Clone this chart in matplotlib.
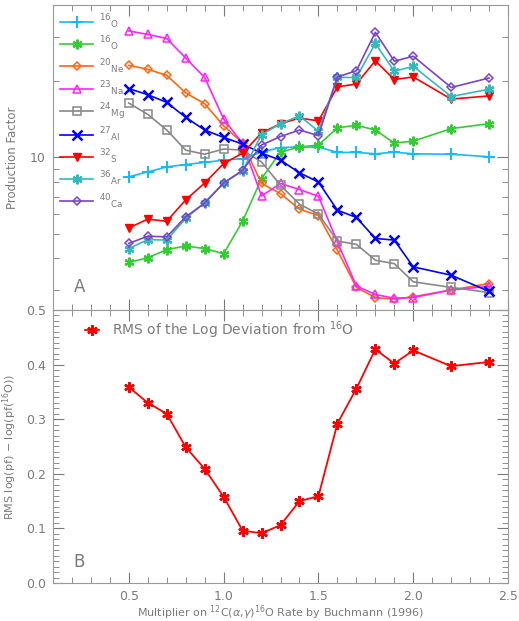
import numpy as np
import matplotlib
matplotlib.use("Agg")
import matplotlib.pyplot as plt
from matplotlib.ticker import MultipleLocator, NullFormatter, FixedLocator, FixedFormatter

# multiplier on the 12C(a,g)16O rate
mult = [0.5, 0.6, 0.7, 0.8, 0.9, 1.0, 1.1, 1.2, 1.3, 1.4, 1.5, 1.6, 1.7, 1.8, 1.9, 2.0, 2.2, 2.4]

# production factors
o16 = [8.39, 8.77, 9.18, 9.38, 9.56, 9.76, 9.9, 10.5, 10.95, 11.0, 11.0, 10.47, 10.47, 10.34, 10.5, 10.34, 10.3, 10.07]
o18 = [3.85, 4.02, 4.33, 4.47, 4.37, 4.17, 5.6, 8.25, 10.5, 11.0, 11.2, 13.1, 13.4, 12.84, 11.4, 11.6, 13.0, 13.6]
ne20 = [23.1, 22.3, 21.1, 18.0, 16.3, 13.35, 11.4, 7.9, 7.2, 6.25, 5.9, 4.3, 3.07, 2.8, 2.76, 2.82, 3.0, 3.18]
na23 = [31.6, 30.6, 29.5, 24.7, 20.7, 14.2, 11.35, 7.05, 7.9, 7.47, 7.03, 4.64, 3.11, 2.88, 2.78, 2.8, 3.0, 3.1]
mg24 = [16.4, 14.8, 12.84, 10.69, 10.3, 10.8, 10.69, 9.6, 7.77, 6.54, 5.98, 4.68, 4.54, 3.93, 3.81, 3.23, 3.07, 2.93]
al27 = [18.7, 17.7, 16.5, 14.4, 12.84, 12.0, 11.3, 10.4, 9.76, 8.7, 8.0, 6.19, 5.8, 4.79, 4.72, 3.7, 3.43, 2.96]
s32 = [5.27, 5.71, 5.6, 6.8, 7.93, 9.46, 10.4, 12.5, 13.6, 14.3, 13.95, 19.0, 19.5, 24.1, 20.3, 20.8, 17.0, 17.5]
ar36 = [4.37, 4.74, 4.72, 5.75, 6.64, 7.93, 8.85, 12.3, 13.6, 14.6, 12.7, 20.7, 20.7, 28.2, 21.9, 22.9, 17.4, 18.6]
ca40 = [4.58, 4.89, 4.86, 5.83, 6.6, 7.93, 8.9, 11.2, 12.1, 12.84, 12.2, 20.8, 22.0, 31.2, 24.0, 25.1, 18.9, 20.6]

# rms of log deviation from 16O (bottom panel)
rms = [0.359, 0.330, 0.310, 0.249, 0.209, 0.158, 0.096, 0.091, 0.106, 0.150, 0.159, 0.292, 0.356, 0.428, 0.402, 0.426, 0.397, 0.405]

labels = [r"${}^{16}{}_{\rm O}$", r"${}^{16}{}_{\rm O}$", r"${}^{20}{}_{\rm Ne}$", r"${}^{23}{}_{\rm Na}$",
          r"${}^{24}{}_{\rm Mg}$", r"${}^{27}{}_{\rm Al}$", r"${}^{32}{}_{\rm S}$", r"${}^{36}{}_{\rm Ar}$",
          r"${}^{40}{}_{\rm Ca}$"]

grey = "#7a7a7a"
ast = (6, 2, 0)
styles = [
    dict(color="#11bbff", marker="+", ms=8, mew=1.4),
    dict(color="#33cc33", marker=ast, ms=7, mew=1.6),
    dict(color="#ff6611", marker="D", ms=4, mfc="none", mew=1.1),
    dict(color="#ff22ff", marker="^", ms=5.5, mfc="none", mew=1.1),
    dict(color="#888888", marker="s", ms=5.5, mfc="none", mew=1.1),
    dict(color="#0000ff", marker="x", ms=6.5, mew=1.8),
    dict(color="#ff0000", marker="v", ms=6),
    dict(color="#33bbbb", marker=ast, ms=7, mew=1.6),
    dict(color="#7744cc", marker="D", ms=4, mfc="none", mew=1.1),
]
series = [o16, o18, ne20, na23, mg24, al27, s32, ar36, ca40]

plt.rcParams["font.family"] = "DejaVu Sans"
plt.rcParams["text.color"] = grey
plt.rcParams["axes.labelcolor"] = grey
plt.rcParams["xtick.color"] = grey
plt.rcParams["ytick.color"] = grey
plt.rcParams["axes.edgecolor"] = "#999999"

fig = plt.figure(figsize=(5.19, 6.21), dpi=100)
ax1 = fig.add_axes([0.102, 0.5008, 0.877, 0.4912])
ax2 = fig.add_axes([0.102, 0.0612, 0.877, 0.4396])

for ys, lab, st in zip(series, labels, styles):
    ax1.plot(mult, ys, lw=1.2, label=lab, **st)

ax1.set_yscale("log")
ax1.set_ylim(2.5, 40)
ax1.set_xlim(0.1, 2.5)
ax1.yaxis.set_major_locator(FixedLocator([10]))
ax1.yaxis.set_major_formatter(FixedFormatter(["10"]))
ax1.yaxis.set_minor_locator(FixedLocator([3, 4, 5, 6, 7, 8, 9, 20, 30]))
ax1.yaxis.set_minor_formatter(NullFormatter())
ax1.xaxis.set_major_locator(MultipleLocator(0.5))
ax1.xaxis.set_minor_locator(MultipleLocator(0.1))
ax1.set_xticklabels([])
ax1.set_ylabel("Production Factor", fontsize=8.5)
ax1.yaxis.set_label_coords(-0.075, 0.5)
ax1.text(0.045, 0.06, "A", transform=ax1.transAxes, fontsize=12, color=grey)
ax1.legend(loc="upper left", frameon=False, fontsize=9, handlelength=2.6,
           labelspacing=0.28, borderaxespad=0.2, handletextpad=0.5, numpoints=1)

ax2.plot(mult, rms, color="#ff0000", marker=ast, ms=7.5, mew=1.7, lw=1.3,
         label=r"RMS of the Log Deviation from $^{16}$O")
ax2.set_xlim(0.1, 2.5)
ax2.set_ylim(0.0, 0.5)
ax2.xaxis.set_major_locator(MultipleLocator(0.5))
ax2.xaxis.set_minor_locator(MultipleLocator(0.1))
ax2.yaxis.set_major_locator(MultipleLocator(0.1))
ax2.yaxis.set_minor_locator(MultipleLocator(0.01))
ax2.xaxis.set_major_formatter(plt.FuncFormatter(lambda v, p: "" if v < 0.3 else "%.1f" % v))
ax2.yaxis.set_major_formatter(plt.FuncFormatter(lambda v, p: "%.1f" % v))
ax2.set_ylabel(r"RMS log(pf) $-$ log(pf($^{16}$O))", fontsize=8)
ax2.yaxis.set_label_coords(-0.075, 0.5)
ax2.set_xlabel(r"Multiplier on $^{12}$C($\alpha$,$\gamma$)$^{16}$O Rate by Buchmann (1996)", fontsize=8)
ax2.xaxis.set_label_coords(0.5, -0.075)
ax2.text(0.045, 0.06, "B", transform=ax2.transAxes, fontsize=12, color=grey)
ax2.legend(loc="upper left", frameon=False, fontsize=10, handlelength=1.0,
           borderaxespad=0.3, handletextpad=0.9, numpoints=1, bbox_to_anchor=(0.05, 1.0))

for ax in (ax1, ax2):
    ax.tick_params(which="both", direction="in", top=True, right=True, labelsize=9, pad=5)
    ax.tick_params(which="major", length=8)
    ax.tick_params(which="minor", length=4)

fig.savefig("out.png", dpi=100)
